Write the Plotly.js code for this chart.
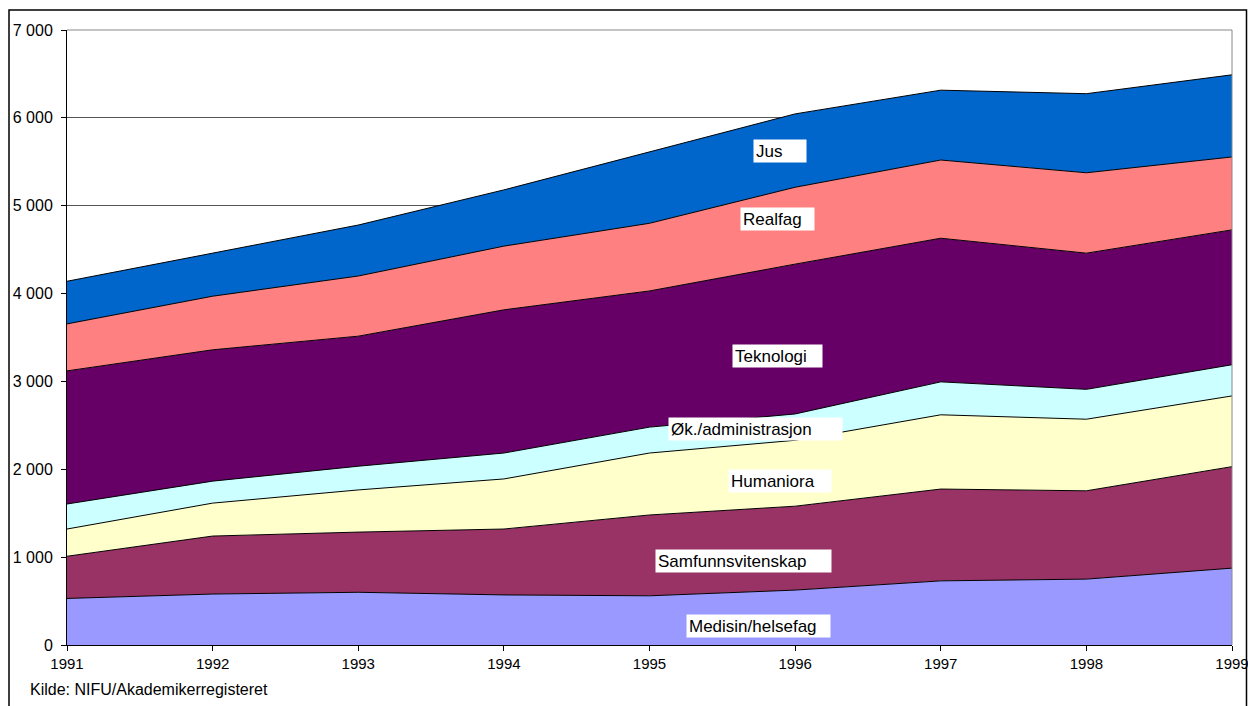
<!DOCTYPE html>
<html>
<head>
<meta charset="utf-8">
<script src="https://cdn.plot.ly/plotly-3.0.1.min.js"></script>
<style>html,body{margin:0;padding:0;background:#fff;}#chart{width:1248px;height:706px;}</style>
</head>
<body>
<div id="chart"></div>
<script>
const years = [1991, 1992, 1993, 1994, 1995, 1996, 1997, 1998, 1999];
const medisin = [530, 580, 600, 570, 560, 625, 730, 750, 875];
const samfunn = [480, 660, 685, 750, 920, 955, 1045, 1005, 1155];
const humaniora = [310, 375, 480, 570, 705, 750, 845, 815, 805];
const okadm = [285, 250, 270, 295, 295, 300, 375, 340, 355];
const teknologi = [1515, 1495, 1480, 1630, 1550, 1705, 1635, 1550, 1535];
const realfag = [535, 610, 685, 725, 770, 875, 890, 915, 830];
const jus = [485, 490, 580, 640, 810, 835, 795, 900, 935];

const seriesNames = ["Medisin/helsefag", "Samfunnsvitenskap", "Humaniora", "Øk./administrasjon", "Teknologi", "Realfag", "Jus"];
const seriesData = [medisin, samfunn, humaniora, okadm, teknologi, realfag, jus];
const seriesColors = ["#9999FF", "#993366", "#FFFFCC", "#CCFFFF", "#660066", "#FF8080", "#0066CC"];

const traces = seriesNames.map((n, i) => ({
  type: "scatter", mode: "lines", name: n, x: years, y: seriesData[i],
  stackgroup: "one", line: {color: "#000", width: 1},
  fillcolor: seriesColors[i], hoverinfo: "skip"
}));

// label boxes: [text, left px, width px, center y px]
const W = 1165, H = 615, L = 67, B = 645;
const labelBoxes = [
  ["Jus", 753, 52, 151],
  ["Realfag", 740, 73, 219],
  ["Teknologi", 732, 89, 356],
  ["Øk./administrasjon", 668, 173, 429],
  ["Humaniora", 728, 102, 481],
  ["Samfunnsvitenskap", 655, 175, 561],
  ["Medisin/helsefag", 686, 143, 626]
];
const annotations = labelBoxes.map(b => ({
  text: b[0], xref: "paper", yref: "paper",
  x: (b[1] - L) / W, y: (B - b[3]) / H, xanchor: "left", yanchor: "middle",
  showarrow: false, bgcolor: "#fff", borderpad: 2, width: b[2] - 4, height: 18, align: "left",
  font: {family: "Liberation Sans, Arial, sans-serif", size: 17, color: "#000"}
}));
annotations.push({
  text: "Kilde: NIFU/Akademikerregisteret", xref: "paper", yref: "paper",
  x: (28 - L) / W, y: (B - 689) / H, xanchor: "left", yanchor: "middle", showarrow: false,
  font: {family: "Liberation Sans, Arial, sans-serif", size: 16, color: "#000"}
});

const layout = {
  width: 1248, height: 706,
  margin: {l: 67, r: 16, t: 30, b: 61},
  paper_bgcolor: "#fff", plot_bgcolor: "#fff",
  showlegend: false, hovermode: false,
  separators: ", ",
  font: {family: "Liberation Sans, Arial, sans-serif", color: "#000"},
  xaxis: {
    range: [1991, 1999], tickvals: years, ticktext: years.map(String), ticks: "outside", ticklen: 5, tickcolor: "#000",
    showline: true, linecolor: "#000", linewidth: 1, showgrid: false, zeroline: false,
    tickfont: {size: 15}, ticklabeloverflow: "allow", fixedrange: true
  },
  yaxis: {
    range: [0, 7000], dtick: 1000, tickformat: ",d", ticks: "outside", ticklen: 5, tickcolor: "#000",
    showline: true, linecolor: "#000", linewidth: 1, showgrid: true, gridcolor: "#555", gridwidth: 1,
    zeroline: false, tickfont: {size: 16}, ticklabelstandoff: 5, fixedrange: true
  },
  annotations: annotations,
  shapes: [
    {type: "line", xref: "paper", yref: "paper", x0: 0, x1: 1, y0: 1, y1: 1, line: {color: "#888", width: 1}},
    {type: "line", xref: "paper", yref: "paper", x0: 1, x1: 1, y0: 0, y1: 1, line: {color: "#888", width: 1}},
    {type: "rect", xref: "paper", yref: "paper", x0: (9 - L) / W, x1: (1246.5 - L) / W, y0: -0.2, y1: (B - 10) / H, line: {color: "#000", width: 1.5}, layer: "below"}
  ]
};

Plotly.newPlot("chart", traces, layout, {staticPlot: true, displayModeBar: false});
</script>
</body>
</html>
